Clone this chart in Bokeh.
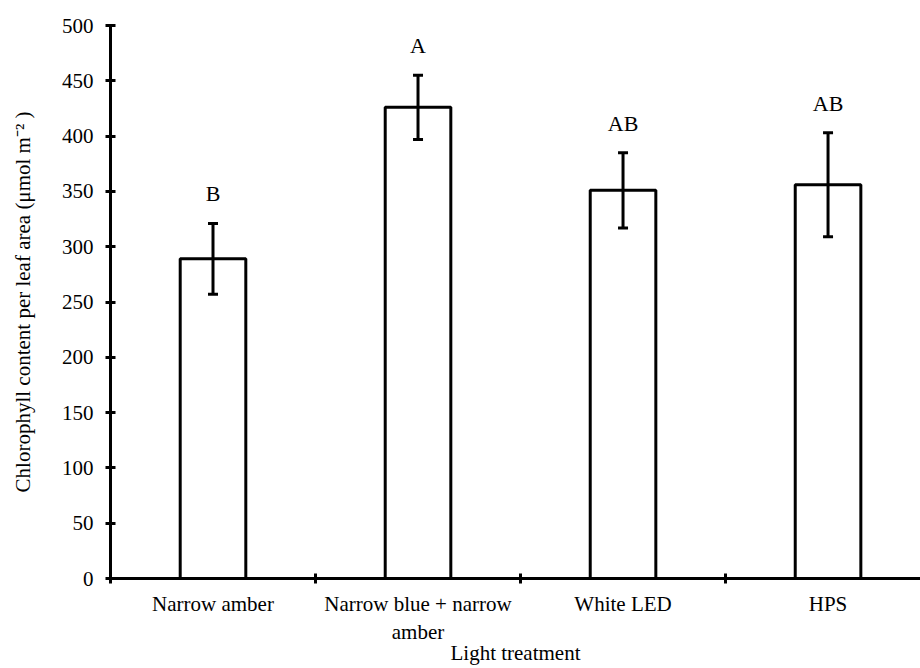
from bokeh.plotting import figure
from bokeh.models import ColumnDataSource, FixedTicker, Whisker, TeeHead, Range1d
from bokeh.core.properties import value
from bokeh.embed import file_html
from bokeh.resources import INLINE

categories = ["Narrow amber", "Narrow blue + narrow\namber", "White LED", "HPS"]
means = [289, 426, 351, 356]
errors = [32, 29, 34, 47]
letters = ["B", "A", "AB", "AB"]
y_ticks = [0, 50, 100, 150, 200, 250, 300, 350, 400, 450, 500]
x_title = "Light treatment"
y_title = "Chlorophyll content per leaf area (μmol m⁻² )"

xs = [i + 0.5 for i in range(len(categories))]
src = ColumnDataSource(dict(
    x=xs, top=means,
    upper=[m + e for m, e in zip(means, errors)],
    lower=[m - e for m, e in zip(means, errors)],
    letter=letters,
))

FONT = "Liberation Serif"
p = figure(width=920, height=668, output_backend="svg", toolbar_location=None,
           x_range=Range1d(0, 3.951), y_range=Range1d(0, 500),
           min_border_left=110, min_border_top=25, min_border_bottom=90, min_border_right=0)
p.background_fill_color = "white"
p.border_fill_color = "white"
p.outline_line_color = None
p.xgrid.visible = False
p.ygrid.visible = False

p.vbar(x="x", top="top", width=0.32, source=src, fill_color="white",
       line_color="black", line_width=3)

w = Whisker(source=src, base="x", upper="upper", lower="lower",
            line_color="black", line_width=3, level="overlay",
            upper_head=TeeHead(size=10, line_width=3, line_color="black"),
            lower_head=TeeHead(size=10, line_width=3, line_color="black"))
p.add_layout(w)

p.text(x="x", y="upper", text="letter", source=src, text_align="center",
       text_baseline="bottom", y_offset=-17, text_font=value(FONT),
       text_font_size="22px", text_color="black")

# x axis
p.xaxis.ticker = FixedTicker(ticks=xs, minor_ticks=[0, 1, 2, 3, 4])
p.xaxis.major_label_overrides = {x: c for x, c in zip(xs, categories)}
p.xaxis.major_tick_line_color = None
p.xaxis.minor_tick_line_color = "black"
p.xaxis.minor_tick_line_width = 3
p.xaxis.minor_tick_in = 5
p.xaxis.minor_tick_out = 5
p.xaxis.axis_line_width = 3
p.xaxis.axis_line_color = "black"
p.xaxis.major_label_text_font = FONT
p.xaxis.major_label_text_font_size = "21px"
p.xaxis.major_label_text_color = "black"
p.xaxis.major_label_standoff = 7
p.xaxis.axis_label = x_title
p.xaxis.axis_label_text_font = FONT
p.xaxis.axis_label_text_font_size = "21px"
p.xaxis.axis_label_text_color = "black"
p.xaxis.axis_label_text_font_style = "normal"
p.xaxis.axis_label_standoff = -6

# y axis
p.yaxis.ticker = FixedTicker(ticks=y_ticks, minor_ticks=[])
p.yaxis.major_tick_line_width = 3
p.yaxis.major_tick_in = 5
p.yaxis.major_tick_out = 5
p.yaxis.axis_line_width = 3
p.yaxis.axis_line_color = "black"
p.yaxis.major_label_text_font = FONT
p.yaxis.major_label_text_font_size = "21px"
p.yaxis.major_label_text_color = "black"
p.yaxis.major_label_standoff = 12
p.yaxis.axis_label = y_title
p.yaxis.axis_label_text_font = FONT
p.yaxis.axis_label_text_font_size = "21px"
p.yaxis.axis_label_text_color = "black"
p.yaxis.axis_label_text_font_style = "normal"
p.yaxis.axis_label_standoff = 24

open("out.html", "w").write(file_html(p, INLINE))
